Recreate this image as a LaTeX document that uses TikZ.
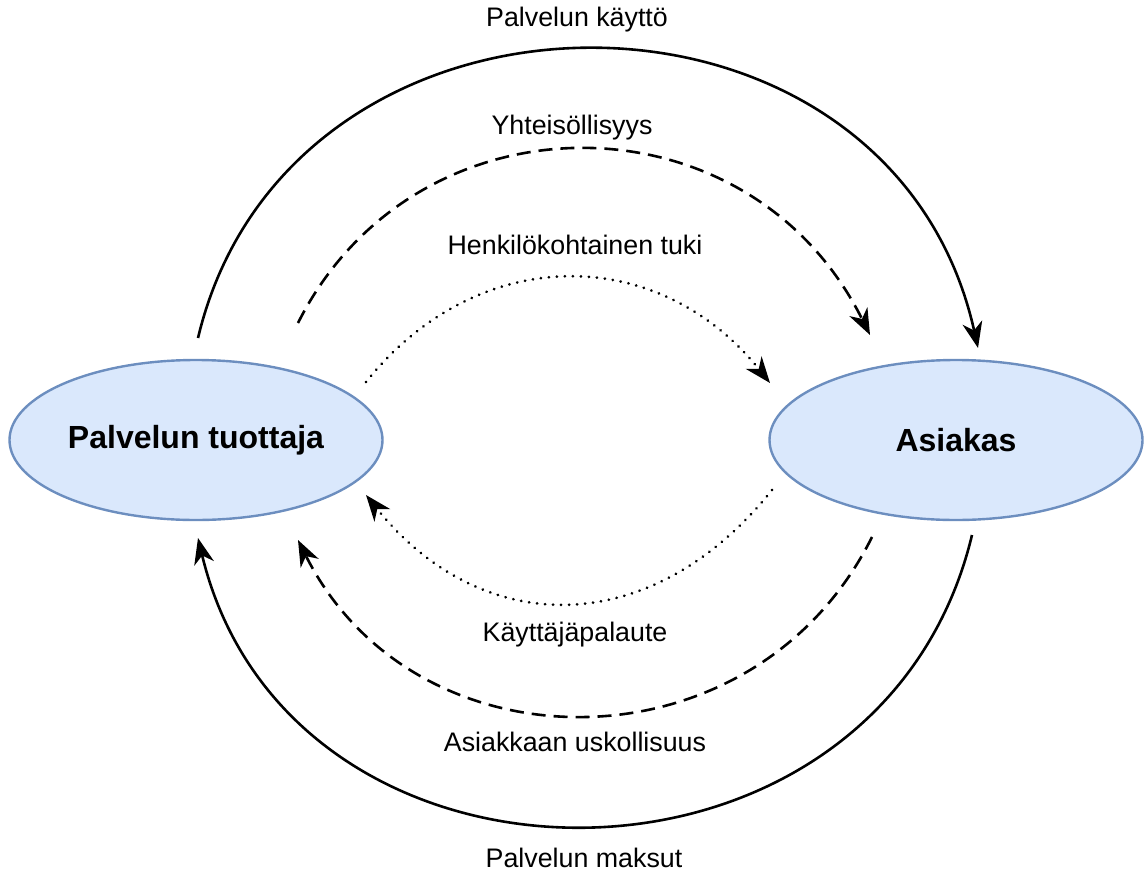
\documentclass[tikz,border=0pt]{standalone}
\usepackage{fontspec}
\setmainfont{Liberation Sans}
\usetikzlibrary{shapes.geometric,arrows.meta}
\definecolor{entfill}{HTML}{DAE8FC}
\definecolor{entline}{HTML}{6C8EBF}
\tikzset{
  ent/.style={ellipse,draw=entline,fill=entfill,line width=1.2pt,inner sep=0pt,
    minimum width=186.5pt,minimum height=80pt,font=\fontsize{16}{19}\selectfont\bfseries},
  lbl/.style={font=\fontsize{13.4}{16}\selectfont},
  flow/.style={line width=1.3pt,-{Stealth[length=13pt,width=10pt,inset=4pt]}},
  dash flow/.style={flow,dash pattern=on 7pt off 4pt},
  dot flow/.style={flow,line cap=round,dash pattern=on 0.01pt off 4pt,line width=1.5pt}
}
\begin{document}
\begin{tikzpicture}[x=0.5pt,y=-0.5pt]
\useasboundingbox (0,0) rectangle (1144,872);
\node[ent] (pt) at (196,440) {Palvelun tuottaja};
\node[ent] (as) at (956,440) {Asiakas};
\coordinate (pt-a) at ([shift={(2,-102)}]pt.center);
\coordinate (pt-b) at ([shift={(102,-117)}]pt.center);
\coordinate (pt-c) at ([shift={(170,-58)}]pt.center);
\coordinate (pt-d) at ([shift={(170,55)}]pt.center);
\coordinate (pt-e) at ([shift={(102,100)}]pt.center);
\coordinate (pt-f) at ([shift={(2,98)}]pt.center);
\coordinate (as-a) at ([shift={(22,-92)}]as.center);
\coordinate (as-b) at ([shift={(-86,-105)}]as.center);
\coordinate (as-c) at ([shift={(-186,-57)}]as.center);
\coordinate (as-d) at ([shift={(-184,50)}]as.center);
\coordinate (as-e) at ([shift={(-84,97)}]as.center);
\coordinate (as-f) at ([shift={(16,95)}]as.center);
\draw[flow] (pt-a) .. controls (290,-48) and (890,-48) .. (as-a);
\draw[dash flow] (pt-b) .. controls (415,90) and (748,90) .. (as-b);
\draw[dot flow] (pt-c) .. controls (477,243) and (658,243) .. (as-c);
\draw[dot flow] (as-d) .. controls (652,640) and (482,640) .. (pt-d);
\draw[dash flow] (as-e) .. controls (754,774) and (415,774) .. (pt-e);
\draw[flow] (as-f) .. controls (879,922) and (290,922) .. (pt-f);
\node[lbl] (l-kaytto) at (577,20) {Palvelun käyttö};
\node[lbl] (l-yht) at (572,128) {Yhteisöllisyys};
\node[lbl] (l-tuki) at (575,245) {Henkilökohtainen tuki};
\node[lbl] (l-palaute) at (575,635) {Käyttäjäpalaute};
\node[lbl] (l-usk) at (575,742) {Asiakkaan uskollisuus};
\node[lbl] (l-maksut) at (584,858) {Palvelun maksut};
\end{tikzpicture}
\end{document}
